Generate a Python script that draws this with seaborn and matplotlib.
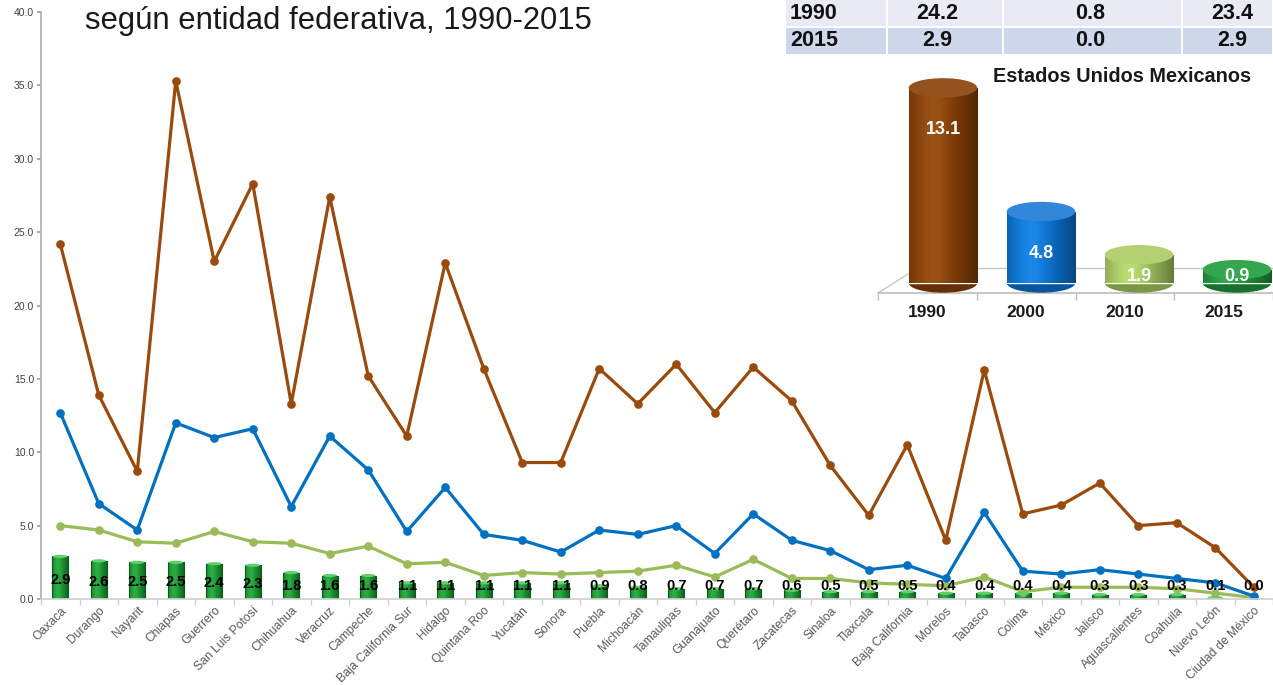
import numpy as np
import pandas as pd
import matplotlib
matplotlib.use("Agg")
import matplotlib.pyplot as plt
from matplotlib.patches import Ellipse, Rectangle
from matplotlib.colors import to_rgb
import seaborn as sns

# ---------------- data ----------------
states = ["Oaxaca", "Durango", "Nayarit", "Chiapas", "Guerrero", "San Luis Potosí",
          "Chihuahua", "Veracruz", "Campeche", "Baja California Sur", "Hidalgo",
          "Quintana Roo", "Yucatán", "Sonora", "Puebla", "Michoacán", "Tamaulipas",
          "Guanajuato", "Querétaro", "Zacatecas", "Sinaloa", "Tlaxcala",
          "Baja California", "Morelos", "Tabasco", "Colima", "México", "Jalisco",
          "Aguascalientes", "Coahuila", "Nuevo León", "Ciudad de México"]
v1990 = [24.2, 13.9, 8.7, 35.3, 23.0, 28.3, 13.3, 27.4, 15.2, 11.1, 22.9, 15.7,
         9.3, 9.3, 15.7, 13.3, 16.0, 12.7, 15.8, 13.5, 9.1, 5.7, 10.5, 4.0, 15.6,
         5.8, 6.4, 7.9, 5.0, 5.2, 3.5, 0.8]
v2000 = [12.7, 6.5, 4.7, 12.0, 11.0, 11.6, 6.3, 11.1, 8.8, 4.6, 7.6, 4.4, 4.0,
         3.2, 4.7, 4.4, 5.0, 3.1, 5.8, 4.0, 3.3, 2.0, 2.3, 1.4, 5.9, 1.9, 1.7, 2.0,
         1.7, 1.4, 1.1, 0.2]
v2010 = [5.0, 4.7, 3.9, 3.8, 4.6, 3.9, 3.8, 3.1, 3.6, 2.4, 2.5, 1.6, 1.8, 1.7,
         1.8, 1.9, 2.3, 1.5, 2.7, 1.4, 1.4, 1.1, 1.0, 0.9, 1.5, 0.5, 0.8, 0.8, 0.8,
         0.7, 0.4, 0.1]
v2015 = [2.9, 2.6, 2.5, 2.5, 2.4, 2.3, 1.8, 1.6, 1.6, 1.1, 1.1, 1.1, 1.1, 1.1,
         0.9, 0.8, 0.7, 0.7, 0.7, 0.6, 0.5, 0.5, 0.5, 0.4, 0.4, 0.4, 0.4, 0.3, 0.3,
         0.3, 0.1, 0.0]
y_ticks = [0, 5, 10, 15, 20, 25, 30, 35, 40]

nat_years = ["1990", "2000", "2010", "2015"]
nat_values = [13.1, 4.8, 1.9, 0.9]

table_years = ["1990", "2015"]
table_max = [24.2, 2.9]
table_min = [0.8, 0.0]
table_diff = [23.4, 2.9]

title = "según entidad federativa, 1990-2015"
inset_title = "Estados Unidos Mexicanos"

# ---------------- style ----------------
sns.set_theme(style="white")
plt.rcParams["font.family"] = ["Liberation Sans", "DejaVu Sans"]

C1990 = "#9a4a0c"
C2000 = "#0070c0"
C2010 = "#9bbb59"
C2015 = "#1a8f30"

W, H = 1273, 685
fig = plt.figure(figsize=(W / 100, H / 100), dpi=100)
fig.patch.set_facecolor("white")


def fx(px):
    return px / W


def fy(py):
    return 1 - py / H


def shade_image(base, n=64, hl=0.35):
    rgb = np.array(to_rgb(base))
    t = np.linspace(0, 1, n)
    k = np.cos((t - hl) * np.pi)
    factor = 0.8 + 0.3 * k
    cols = np.clip(rgb[None, :] * factor[:, None] + 0.06 * np.clip(k, 0, 1)[:, None] ** 4, 0, 1)
    return cols[None, :, :]


def cylinderize(axx, patches, zorder):
    for p in patches:
        x0, w, h = p.get_x(), p.get_width(), p.get_height()
        if h <= 0:
            continue
        img = shade_image(p.get_facecolor()[:3])
        im = axx.imshow(img, extent=[x0, x0 + w, 0, h], aspect="auto",
                        interpolation="bilinear", zorder=zorder - 0.05)
        im.set_clip_path(p)


# ---------------- main chart ----------------
ax = fig.add_axes([fx(41), fy(599), (W - 41) / W, 587 / H])
df = pd.DataFrame({"estado": states, "1990": v1990, "2000": v2000,
                   "2010": v2010, "2015": v2015})

sns.barplot(data=df, x="estado", y="2015", color=C2015, saturation=1,
            width=0.42, edgecolor="#0b5a1b", linewidth=0.8, ax=ax, zorder=2)
bars = list(ax.patches[:len(states)])
cylinderize(ax, bars, 2)
for p in bars:
    p.set_facecolor("none")
    p.set_zorder(2.1)
    if p.get_height() > 0:
        ax.add_patch(Ellipse((p.get_x() + p.get_width() / 2, p.get_height()),
                             p.get_width() * 0.9, 0.22, facecolor="#5fd16a",
                             edgecolor="none", zorder=2.2))

for col, color in [("2010", C2010), ("2000", C2000), ("1990", C1990)]:
    sns.pointplot(data=df, x="estado", y=col, color=color, markers="o",
                  markersize=4.5, linewidth=2.3, ax=ax)

for p, v in zip(bars, v2015):
    ax.text(p.get_x() + p.get_width() / 2, max(0.9, v * 0.45), f"{v:.1f}",
            ha="center", va="center", fontsize=10.5, fontweight="bold",
            color="black", zorder=10)

ax.set_xlim(-0.5, len(states) - 0.5)
ax.set_ylim(0, 40)
ax.set_yticks(y_ticks)
ax.set_yticklabels([f"{t:.1f}" for t in y_ticks], fontsize=7.5, color="#404040")
ax.set_xlabel("")
ax.set_ylabel("")
ax.set_xticks(range(len(states)))
ax.set_xticklabels(states, rotation=45, ha="right", rotation_mode="anchor",
                   fontsize=8.7, color="#595959")
ax.set_xticks(np.arange(-0.5, len(states), 1.0), minor=True)
ax.tick_params(axis="x", which="major", length=0, pad=4)
ax.tick_params(axis="x", which="minor", length=4, color="#d0d0d0", direction="out",
               bottom=True)
ax.tick_params(axis="y", which="major", length=3, color="#a0a0a0", left=True, pad=2)
for s in ["top", "right"]:
    ax.spines[s].set_visible(False)
ax.spines["left"].set_color("#b0b0b0")
ax.spines["bottom"].set_color("#d0d0d0")
ax.patch.set_alpha(0)

fig.text(fx(85), fy(29), title, fontsize=22.3, va="baseline", ha="left", color="#1a1a1a")

# ---------------- table ----------------
col_edges = [785, 887, 1003, 1182, 1273]
row_edges = [0, 27, 55]
row_colors = ["#e8ebf4", "#cfd7ea"]
for r in range(2):
    for c in range(4):
        x0, x1 = col_edges[c] + 1, col_edges[c + 1] - 1
        y0, y1 = row_edges[r] + (1 if r else 0), row_edges[r + 1] - 1
        fig.patches.append(Rectangle((fx(x0), fy(y1)), (x1 - x0) / W, (y1 - y0) / H,
                                     transform=fig.transFigure, facecolor=row_colors[r],
                                     edgecolor="none", zorder=0))
    yc = fy((row_edges[r] + row_edges[r + 1]) / 2)
    fig.text(fx(790), yc, table_years[r], fontsize=15.5, fontweight="bold",
             ha="left", va="center", color="#111111")
    for xc, val in [(937, table_max[r]), (1090, table_min[r]), (1232, table_diff[r])]:
        fig.text(fx(xc), yc, f"{val:.1f}", fontsize=15.5, fontweight="bold",
                 ha="center", va="center", color="#111111")

# ---------------- inset: floor and year labels ----------------
ax2 = fig.add_axes([fx(878), fy(293), 395 / W, 233 / H])
ax2.patch.set_alpha(0)
ax2.set_ylim(-0.67, 14.97)
ax2.set_xlim(-0.5, 3.5)
ax2.plot([-0.1, 3.5], [1.0, 1.0], color="#c8c8c8", lw=1, zorder=1)
ax2.plot([-0.5, -0.1], [-0.67, 1.0], color="#c8c8c8", lw=1, zorder=1)
for s in ["top", "right", "left"]:
    ax2.spines[s].set_visible(False)
ax2.spines["bottom"].set_color("#c0c0c0")
ax2.set_yticks([])
ax2.set_xticks(range(4))
ax2.set_xticklabels(nat_years, fontsize=12.5, fontweight="bold", color="#1a1a1a")
ax2.set_xticks(np.arange(-0.5, 4, 1.0), minor=True)
ax2.tick_params(axis="x", which="major", length=0, pad=9)
ax2.tick_params(axis="x", which="minor", length=5, color="#c0c0c0", bottom=True)

# ---------------- inset: cylinders ----------------
ax3 = fig.add_axes([fx(894), fy(293), 392 / W, 233 / H])
ax3.patch.set_alpha(0)
nat_colors = ["#7e3c06", "#0a6cc4", "#9bbb59", "#1e8c3a"]
top_colors = ["#94521e", "#3288d8", "#b3d073", "#35a650"]
sns.barplot(x=nat_years, y=nat_values, hue=nat_years, palette=nat_colors,
            legend=False, width=0.7, saturation=1, ax=ax3, zorder=3)
cyl = list(ax3.patches[:4])
ell_h = 1.3
for p, ctop in zip(cyl, top_colors):
    cx = p.get_x() + p.get_width() / 2
    h = p.get_height()
    base = p.get_facecolor()
    dark = tuple(np.array(base[:3]) * 0.8)
    ax3.add_patch(Ellipse((cx, 0), p.get_width(), ell_h, facecolor=dark,
                          edgecolor="none", zorder=2.9))
    ax3.add_patch(Ellipse((cx, h), p.get_width(), ell_h, facecolor=ctop,
                          edgecolor="none", zorder=3.2))
cylinderize(ax3, cyl, 3.1)
for i, v in enumerate(nat_values):
    ax3.text(i, max(0.45, v - 2.8), f"{v:.1f}", ha="center", va="center",
             fontsize=13, fontweight="bold", color="white", zorder=5)
ax3.set_ylim(-0.67, 14.97)
ax3.set_xlim(-0.5, 3.5)
ax3.axis("off")

fig.text(fx(1122), fy(76), inset_title, ha="center", va="center", fontsize=14.3,
         fontweight="bold", color="#1a1a1a")

fig.savefig("out.png", dpi=100, facecolor="white")
